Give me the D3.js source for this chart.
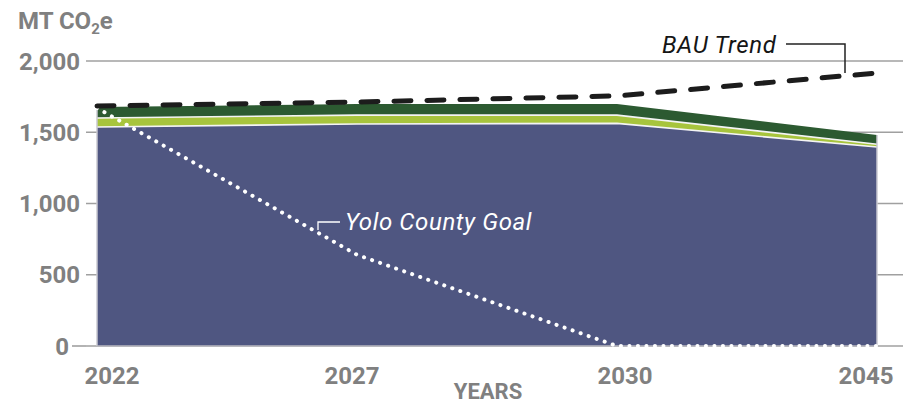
<!DOCTYPE html>
<html><head><meta charset="utf-8">
<script src="https://cdn.jsdelivr.net/npm/d3@7"></script>
<style>
html,body{margin:0;padding:0;background:#fff;}
text{font-family:Roboto,"Noto Sans",sans-serif;}
</style></head>
<body><svg id="c" width="913" height="405"></svg>
<script>
const years = ["2022","2027","2030","2045"];
const navy = [1537, 1558, 1562, 1396];
const lightGreen = [63, 62, 58, 20];
const darkGreen = [77, 78, 78, 65];
const bau = [1684, 1712, 1755, 1916];
const goal = [1670, 640, 0, 0];
const yTicks = [0, 500, 1000, 1500, 2000];

const svg = d3.select("#c");
const x = d3.scalePoint().domain(years).range([97, 877]);
const y = d3.scaleLinear().domain([0, 2000]).range([346, 61]);
const grey = "#808080";

// gridlines
svg.append("g").selectAll("line").data(yTicks).join("line")
  .attr("x1", 86).attr("x2", 903)
  .attr("y1", d => y(d)).attr("y2", d => y(d))
  .attr("stroke", "#a0a0a0").attr("stroke-width", 1.6);

// y axis labels
const yAxis = d3.axisLeft(y).tickValues(yTicks).tickSize(0).tickPadding(0)
  .tickFormat(d3.format(","));
const ya = svg.append("g").attr("transform", "translate(80,0)").call(yAxis);
ya.select(".domain").remove();
ya.selectAll("text").attr("fill", grey).attr("font-size", 24).attr("font-weight", 700)
  .attr("font-family", "Roboto").attr("dy", "0.34em")
  .attr("x", d => d === 0 ? -11 : 0);
svg.append("line").attr("x1", 72).attr("x2", 86).attr("y1", y(0)).attr("y2", y(0))
  .attr("stroke", "#a0a0a0").attr("stroke-width", 1.6);

// stacked areas
const rows = years.map((yr, i) => ({year: yr, navy: navy[i], light: lightGreen[i], dark: darkGreen[i]}));
const stack = d3.stack().keys(["navy", "light", "dark"]);
const series = stack(rows);
const colors = {navy: "#4f5681", light: "#a7c43d", dark: "#2c5a31"};
const area = d3.area().x(d => x(d.data.year)).y0(d => y(d[0])).y1(d => y(d[1]));
svg.append("g").selectAll("path").data(series).join("path")
  .attr("d", area).attr("fill", d => colors[d.key]);
const topLine = d3.line().x(d => x(d.data.year)).y(d => y(d[1]));
svg.append("g").selectAll("path").data(series.slice(0, 2)).join("path")
  .attr("d", topLine).attr("fill", "none").attr("stroke", "#f4f4f4").attr("stroke-width", 1.6);
const totals = rows.map(r => r.navy + r.light + r.dark);
[0, years.length - 1].forEach(i => {
  svg.append("line").attr("x1", x(years[i])).attr("x2", x(years[i]))
    .attr("y1", y(0)).attr("y2", y(totals[i]))
    .attr("stroke", "#c8c8d0").attr("stroke-width", 1.5);
});
svg.append("line").attr("x1", x(years[0])).attr("x2", x(years[years.length-1]))
  .attr("y1", y(0)).attr("y2", y(0)).attr("stroke", "#b8b8c0").attr("stroke-width", 1.6);

// goal dotted line
const line = d3.line().x((d, i) => x(years[i])).y(d => y(d));
svg.append("path").attr("d", line(goal)).attr("fill", "none")
  .attr("stroke", "#ffffff").attr("stroke-width", 4).attr("stroke-linecap", "round")
  .attr("stroke-dasharray", "0.1 8.4");

// BAU dashed line
svg.append("path").attr("d", line(bau)).attr("fill", "none")
  .attr("stroke", "#1c1c1c").attr("stroke-width", 5).attr("stroke-linecap", "round")
  .attr("stroke-dasharray", "17 16");

// title
const t = svg.append("text").attr("x", 18).attr("y", 29).attr("fill", grey)
  .attr("font-size", 24).attr("font-weight", 700);
t.append("tspan").text("MT CO");
t.append("tspan").text("2").attr("font-size", 15).attr("dy", 5);
t.append("tspan").text("e").attr("dy", -5);

// x labels
const xOff = [15, -5, 8, -11];
svg.append("g").selectAll("text").data(years).join("text")
  .attr("x", (d, i) => x(d) + xOff[i]).attr("y", 384)
  .attr("text-anchor", "middle").attr("fill", grey)
  .attr("font-size", 24).attr("font-weight", 700).text(d => d);
svg.append("text").attr("x", 488).attr("y", 399).attr("text-anchor", "middle")
  .attr("fill", grey).attr("font-size", 22).attr("font-weight", 700).text("YEARS");

// BAU annotation
svg.append("text").attr("x", 662).attr("y", 53).attr("fill", "#151515")
  .attr("font-size", 24).attr("letter-spacing", 0.6).attr("font-style", "italic").text("BAU Trend");
svg.append("path").attr("d", "M786,44H845V73").attr("fill", "none")
  .attr("stroke", "#222").attr("stroke-width", 1.5);

// Goal annotation
svg.append("text").attr("x", 345).attr("y", 230).attr("fill", "#ffffff")
  .attr("font-size", 24).attr("letter-spacing", 0.6).attr("font-style", "italic").text("Yolo County Goal");
svg.append("path").attr("d", "M340,222H318V230").attr("fill", "none")
  .attr("stroke", "#ffffff").attr("stroke-width", 1.3);
</script></body></html>
